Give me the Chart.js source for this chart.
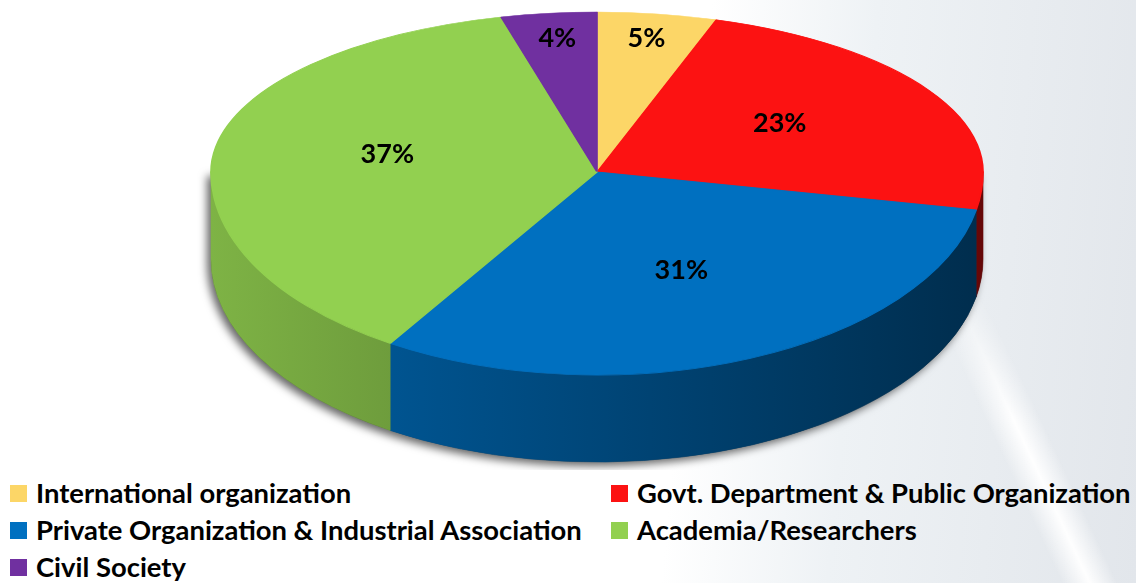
<!DOCTYPE html>
<html>
<head>
<meta charset="utf-8">
<script src="https://cdn.jsdelivr.net/npm/chart.js@4.4.0/dist/chart.umd.min.js"></script>
<style>
  html, body { margin: 0; padding: 0; }
  body {
    width: 1136px; height: 583px; position: relative; overflow: hidden;
    background: linear-gradient(95deg, #ffffff 0%, #ffffff 60%, #eef2f5 74%, #e2e6eb 100%);
    font-family: Lato, "Open Sans", sans-serif;
  }
  #streak {
    position: absolute; left: 0; top: 0; width: 1136px; height: 583px;
    background: linear-gradient(65deg, rgba(255,255,255,0) 75.4%, rgba(255,255,255,0.95) 77.4%, rgba(255,255,255,0) 79.4%);
    -webkit-mask-image: linear-gradient(to bottom, transparent 45%, black 72%);
    mask-image: linear-gradient(to bottom, transparent 45%, black 72%);
  }
  #pieCanvas { position: absolute; left: 0; top: 0; }
  .legend-item {
    position: absolute; display: flex; align-items: center;
    font-weight: 700; font-size: 27.4px; color: #000; white-space: nowrap; line-height: 30px;
  }
  .sw { width: 17px; height: 17px; margin-right: 9px; flex: none; }
</style>
</head>
<body>
<div id="streak"></div>
<canvas id="pieCanvas" width="1136" height="470"></canvas>
<div id="legend"></div>
<script>
// datos del gráfico
const categories = [
  "International organization",
  "Govt. Department & Public Organization",
  "Private Organization & Industrial Association",
  "Academia/Researchers",
  "Civil Society"
];
const shares = [5, 23, 31, 37, 4];
const sliceColors = ["#FCD667", "#FC1212", "#0070C0", "#92D050", "#7030A0"];

// geometría del pastel inclinado (px de pantalla)
const pieCx = 597, pieCy = 172;
const pieRx = 386, pieRyTop = 160, pieRyBottom = 203;
const pieDepth = 87;

function shade(hex, k) {
  const n = parseInt(hex.slice(1), 16);
  const r = Math.round(((n >> 16) & 255) * k);
  const g = Math.round(((n >> 8) & 255) * k);
  const b = Math.round((n & 255) * k);
  return `rgb(${r},${g},${b})`;
}

function drawSides(ctx, arcs) {
  // sombra bajo el pastel
  ctx.save();
  ctx.shadowColor = "rgba(0,0,0,0.6)";
  ctx.shadowBlur = 9;
  ctx.shadowOffsetX = -4;
  ctx.shadowOffsetY = 4;
  ctx.fillStyle = "#444";
  ctx.beginPath();
  ctx.ellipse(pieCx, pieCy + pieDepth, pieRx, pieRyBottom, 0, 0, Math.PI);
  ctx.lineTo(pieCx - pieRx, pieCy);
  ctx.lineTo(pieCx + pieRx, pieCy);
  ctx.closePath();
  ctx.fill();
  ctx.restore();

  // caras laterales (solo la mitad frontal es visible)
  arcs.forEach((arc, i) => {
    const s = Math.max(arc.startAngle, 0);
    const e = Math.min(arc.endAngle, Math.PI);
    if (e <= s) return;
    const grad = ctx.createLinearGradient(pieCx - pieRx, 0, pieCx + pieRx, 0);
    grad.addColorStop(0, shade(sliceColors[i], 0.86));
    grad.addColorStop(1, shade(sliceColors[i], 0.40));
    ctx.beginPath();
    ctx.ellipse(pieCx, pieCy, pieRx, pieRyBottom, 0, s, e);
    ctx.ellipse(pieCx, pieCy + pieDepth, pieRx, pieRyBottom, 0, e, s, true);
    ctx.closePath();
    ctx.fillStyle = grad;
    ctx.fill();
    ctx.strokeStyle = grad;
    ctx.lineWidth = 0.6;
    ctx.stroke();
  });
}

function drawTop(ctx, chart, arcs, upper) {
  const a = arcs[0];
  const R = a.outerRadius;
  ctx.save();
  ctx.beginPath();
  if (upper) ctx.rect(0, 0, chart.width, pieCy + 0.5);
  else ctx.rect(0, pieCy - 0.5, chart.width, chart.height);
  ctx.clip();
  ctx.translate(pieCx, pieCy);
  ctx.scale(pieRx / R, (upper ? pieRyTop : pieRyBottom) / R);
  ctx.translate(-a.x, -a.y);
  arcs.forEach(el => el.draw(ctx));
  ctx.restore();
}

const tiltPlugin = {
  id: "tilt3d",
  beforeDatasetsDraw(chart) {
    const ctx = chart.ctx;
    const arcs = chart.getDatasetMeta(0).data;
    drawSides(ctx, arcs);
    drawTop(ctx, chart, arcs, true);
    drawTop(ctx, chart, arcs, false);
    return false;
  },
  afterDraw(chart) {
    const ctx = chart.ctx;
    const arcs = chart.getDatasetMeta(0).data;
    ctx.save();
    ctx.font = "700 27px Lato, 'Open Sans', sans-serif";
    ctx.fillStyle = "#000";
    ctx.textAlign = "center";
    ctx.textBaseline = "middle";
    arcs.forEach((arc, i) => {
      const mid = (arc.startAngle + arc.endAngle) / 2;
      const f = shares[i] < 8 ? 0.82 : 0.55;
      const s = Math.sin(mid);
      const x = pieCx + f * pieRx * Math.cos(mid);
      const y = pieCy + f * (s < 0 ? pieRyTop : pieRyBottom) * s - 4;
      ctx.fillText(shares[i] + "%", x, y);
    });
    ctx.restore();
  }
};

function createLegend() {
  const legendEl = document.getElementById("legend");
  categories.forEach((label, i) => {
    const item = document.createElement("div");
    item.className = "legend-item";
    item.style.left = (i % 2 ? 611 : 10) + "px";
    item.style.top = (478 + Math.floor(i / 2) * 37) + "px";
    const sw = document.createElement("span");
    sw.className = "sw";
    sw.style.background = sliceColors[i];
    item.appendChild(sw);
    const text = document.createElement("span");
    text.textContent = label;
    item.appendChild(text);
    legendEl.appendChild(item);
  });
}

createLegend();

new Chart(document.getElementById("pieCanvas").getContext("2d"), {
  type: "pie",
  data: {
    labels: categories,
    datasets: [{
      data: shares,
      backgroundColor: sliceColors,
      borderColor: sliceColors,
      borderWidth: 1
    }]
  },
  options: {
    responsive: false,
    animation: false,
    devicePixelRatio: 1,
    plugins: {
      legend: { display: false },
      tooltip: { enabled: false }
    }
  },
  plugins: [tiltPlugin]
});
</script>
</body>
</html>
